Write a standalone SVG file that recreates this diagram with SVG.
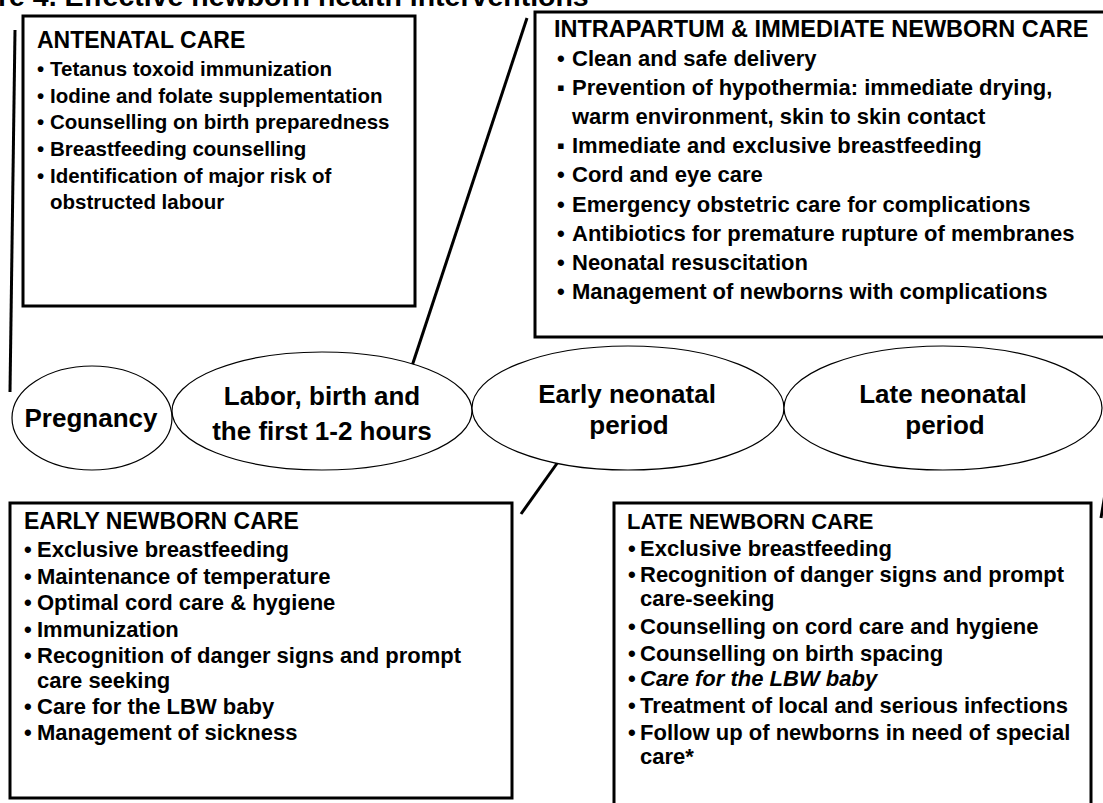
<svg xmlns="http://www.w3.org/2000/svg" width="1103" height="803" viewBox="0 0 1103 803">
<style>
.box{fill:#fff;stroke:#000;stroke-width:3}
.ell{fill:#fff;stroke:#000;stroke-width:1.2}
.conn{stroke:#000;stroke-width:3;fill:none}
text{font-family:'Liberation Sans',Arial,sans-serif;font-weight:bold;fill:#000}
.ttl{font-size:28.5px}
.h{font-size:23px}
.hi{font-size:23.5px}
.t{font-size:22px}
.a{font-size:20.5px}
.lbl{font-size:26px;text-anchor:middle}
</style>
<rect width="1103" height="803" fill="#fff"/>
<text class="ttl" x="-2" y="6">re 4. Effective newborn health interventions</text>
<g id="connectors">
<line class="conn" x1="15" y1="30" x2="10" y2="392"/>
<line class="conn" x1="527" y1="18" x2="412" y2="366"/>
<line class="conn" x1="558" y1="462" x2="521" y2="514"/>
<line class="conn" x1="1106" y1="488" x2="1101" y2="518"/>
</g>
<g id="antenatal">
<rect class="box" x="23" y="16" width="392" height="290"/>
<text class="h" x="37" y="48">ANTENATAL CARE</text>
<g class="a">
<text x="37" y="76">•</text><text x="50" y="76">Tetanus toxoid immunization</text>
<text x="37" y="103">•</text><text x="50" y="103">Iodine and folate supplementation</text>
<text x="37" y="129">•</text><text x="50" y="129">Counselling on birth preparedness</text>
<text x="37" y="156">•</text><text x="50" y="156">Breastfeeding counselling</text>
<text x="37" y="183">•</text><text x="50" y="183">Identification of major risk of</text>
<text x="50" y="209">obstructed labour</text>
</g>
</g>
<g id="intrapartum">
<rect class="box" x="535" y="12" width="580" height="325"/>
<text class="hi" x="554" y="37">INTRAPARTUM &amp; IMMEDIATE NEWBORN CARE</text>
<g class="t">
<text x="557" y="66">•</text><text x="572" y="66">Clean and safe delivery</text>
<text x="557" y="95">▪</text><text x="572" y="95">Prevention of hypothermia: immediate drying,</text>
<text x="572" y="124">warm environment, skin to skin contact</text>
<text x="557" y="153">▪</text><text x="572" y="153">Immediate and exclusive breastfeeding</text>
<text x="557" y="182">•</text><text x="572" y="182">Cord and eye care</text>
<text x="557" y="212">•</text><text x="572" y="212">Emergency obstetric care for complications</text>
<text x="557" y="241">•</text><text x="572" y="241">Antibiotics for premature rupture of membranes</text>
<text x="557" y="270">•</text><text x="572" y="270">Neonatal resuscitation</text>
<text x="557" y="299">•</text><text x="572" y="299">Management of newborns with complications</text>
</g>
</g>
<g id="pregnancy">
<ellipse class="ell" cx="92" cy="418" rx="80" ry="52"/>
<text class="lbl" x="91" y="427">Pregnancy</text>
</g>
<g id="labor">
<ellipse class="ell" cx="322" cy="411" rx="150" ry="59"/>
<text class="lbl" x="322" y="405">Labor, birth and</text>
<text class="lbl" x="322" y="440">the first 1-2 hours</text>
</g>
<g id="early-neonatal">
<ellipse class="ell" cx="628" cy="408" rx="156" ry="62"/>
<text class="lbl" x="627" y="403">Early neonatal</text>
<text class="lbl" x="629" y="434">period</text>
</g>
<g id="late-neonatal">
<ellipse class="ell" cx="943" cy="408" rx="159" ry="62"/>
<text class="lbl" x="943" y="403">Late neonatal</text>
<text class="lbl" x="945" y="434">period</text>
</g>
<g id="early-newborn">
<rect class="box" x="10" y="503" width="502" height="295"/>
<text class="h" x="24" y="529">EARLY NEWBORN CARE</text>
<g class="t">
<text x="24" y="557">•</text><text x="37" y="557">Exclusive breastfeeding</text>
<text x="24" y="584">•</text><text x="37" y="584">Maintenance of temperature</text>
<text x="24" y="610">•</text><text x="37" y="610">Optimal cord care &amp; hygiene</text>
<text x="24" y="637">•</text><text x="37" y="637">Immunization</text>
<text x="24" y="663">•</text><text x="37" y="663">Recognition of danger signs and prompt</text>
<text x="37" y="688">care seeking</text>
<text x="24" y="714">•</text><text x="37" y="714">Care for the LBW baby</text>
<text x="24" y="740">•</text><text x="37" y="740">Management of sickness</text>
</g>
</g>
<g id="late-newborn">
<rect class="box" x="614" y="503" width="477" height="320"/>
<text class="t" x="627" y="529">LATE NEWBORN CARE</text>
<g class="t">
<text x="628" y="556">•</text><text x="640" y="556">Exclusive breastfeeding</text>
<text x="628" y="582">•</text><text x="640" y="582">Recognition of danger signs and prompt</text>
<text x="640" y="606">care-seeking</text>
<text x="628" y="634">•</text><text x="640" y="634">Counselling on cord care and hygiene</text>
<text x="628" y="661">•</text><text x="640" y="661">Counselling on birth spacing</text>
<text x="628" y="686">•</text><text x="640" y="686" font-style="italic">Care for the LBW baby</text>
<text x="628" y="713">•</text><text x="640" y="713">Treatment of local and serious infections</text>
<text x="628" y="740">•</text><text x="640" y="740">Follow up of newborns in need of special</text>
<text x="640" y="764">care*</text>
</g>
</g>
</svg>
